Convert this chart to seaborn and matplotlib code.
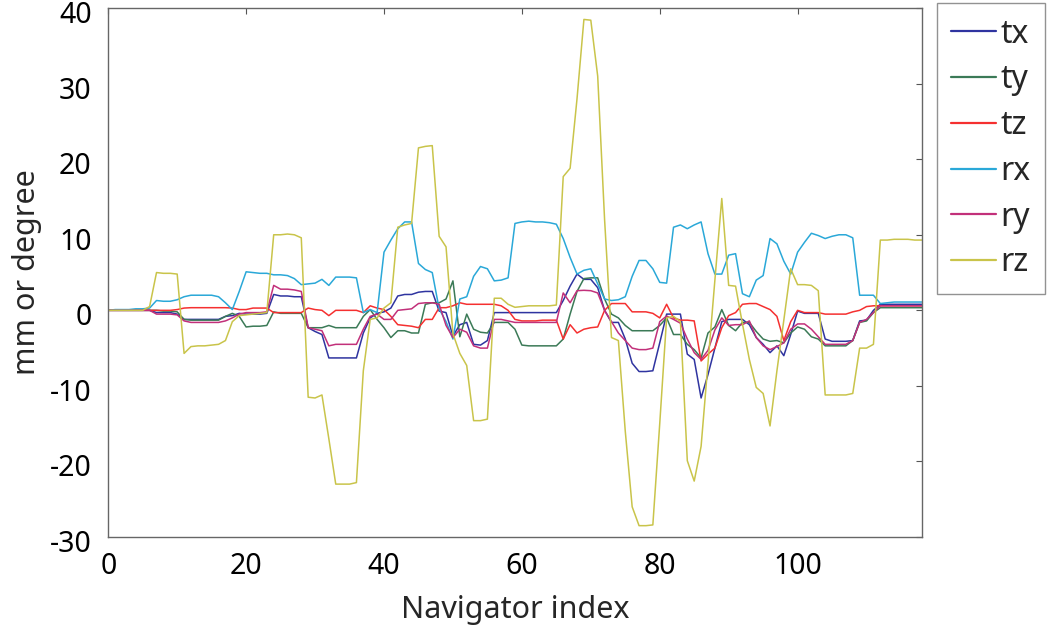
import numpy as np
import pandas as pd
import matplotlib
matplotlib.use("Agg")
import matplotlib.pyplot as plt
import matplotlib.transforms as mtransforms
import seaborn as sns

# motion parameters per navigator
tx = [0, 0, 0, 0, 0, 0, 0,
      -0.3, -0.3, -0.3, -0.5,
      -1.2, -1.2, -1.2, -1.2, -1.2, -1.2,
      -0.8, -0.7, -0.4, -0.5, -0.5, -0.5, -0.4,
      2.1, 1.9, 1.9, 1.8, 1.8,
      -2.3, -2.8, -3.2,
      -6.3, -6.3, -6.3, -6.3, -6.3,
      -3.0, -1.0, -0.4, -0.2, 0.3,
      1.9, 2.1, 2.1, 2.4, 2.5, 2.5,
      -0.1, -0.3, -3.4, -1.9, -1.6,
      -4.5, -4.6, -4.0,
      -0.3, -0.3, -0.3, -0.3, -0.3, -0.3, -0.3, -0.3, -0.3, -0.3,
      1.3, 3.2, 4.8, 4.1, 4.1, 3.0, 0,
      -1.6, -1.6, -3.8, -7.0, -8.1, -8.1, -8.0,
      -4.3, -0.5, -0.5, -0.5,
      -5.8, -6.5, -11.6, -8.5, -5.0,
      -1.5, -1.2, -1.2, -1.2, -1.9, -3.6, -4.5, -5.6, -4.7, -6.0, -3.2,
      -0.1, -0.4, -0.4, -0.4,
      -3.8, -4.1, -4.1, -4.1, -4.0,
      -1.4, -1.3, 0,
      0.8, 0.8, 0.8, 0.8, 0.8, 0.8, 0.8]

ty = [0, 0, 0, 0, 0, 0, 0,
      0, -0.1, -0.1, -0.2,
      -1.2, -1.3, -1.3, -1.3, -1.3, -1.3,
      -0.8, -0.4, -0.8,
      -2.2, -2.1, -2.1, -2.0,
      -0.2, -0.4, -0.4, -0.4, -0.4,
      -2.3, -2.3, -2.3, -2.0, -2.3, -2.3, -2.3, -2.3,
      -0.8, 0.1, -1.2,
      -2.3, -3.6, -2.7, -2.7, -3.0, -3.0,
      0.8, 1.0, 1.0, 1.5, 3.9,
      -3.5, -0.5, -2.5, -2.9, -3.0,
      -1.6, -1.6, -1.6, -2.5,
      -4.6, -4.7, -4.7, -4.7, -4.7, -4.7,
      -3.8, -0.5, 2.5, 4.2, 4.3, 4.3, 1.5,
      -0.5, -1.0, -2.0, -2.7, -2.7, -2.7, -2.7,
      -2.0, -1.0, -3.2, -3.2,
      -4.5, -5.2, -6.3, -3.0, -2.2,
      0.1, -2.0, -2.7, -1.6, -1.6, -2.8, -3.8, -4.1, -4.0, -4.3, -3.0,
      -2.2, -2.5, -3.5, -3.8,
      -4.7, -4.7, -4.7, -4.7, -4.0,
      -1.6, -1.4, -0.3,
      0.35, 0.35, 0.35, 0.35, 0.35, 0.35, 0.35]

tz = [0, 0, 0, 0, 0, 0, 0,
      0, 0, 0, 0.1,
      0.3, 0.35, 0.35, 0.35, 0.35, 0.35, 0.35,
      0.3, 0.1, 0.1, 0.3, 0.3, 0.3,
      -0.3, -0.3, -0.3, -0.3, -0.3,
      0.3, 0.1, 0, -0.7, 0, 0, 0, 0,
      -0.3, 0.6, 0.3, 0.1, -0.8,
      -1.9, -2.0, -2.1, -2.3, -1.2, -1.2,
      0.35, 0.35, 0.6, 1.0, 0.8,
      0.8, 0.8, 0.8, 0.8, 0.6, 0, -1.2,
      -1.4, -1.4, -1.4, -1.3, -1.3, -1.3,
      -3.8, -1.9, -3.0, -2.5, -2.3, -2.2,
      0, 0.9, 0.9, 0.9,
      -0.2, -0.2, -0.2, -0.4, -1.0, 0.8,
      -1.0, -1.3, -1.3, -1.4,
      -6.7, -5.8, -5.0, -2.3, -0.7, -0.3,
      0.8, 0.9, 0.9, 0.5, 0.1, -0.8, -4.0, -1.5,
      0, -0.3, -0.3, -0.3,
      -0.5, -0.5, -0.5, -0.5, -0.2, 0, 0.5,
      0.6, 0.6, 0.6, 0.6, 0.6, 0.6, 0.6, 0.6]

rx = [0, 0.1, 0.1, 0.1, 0.2, 0.2,
      0.3, 1.3, 1.2, 1.2, 1.4,
      1.8, 2.0, 2.0, 2.0, 2.0, 1.8, 1.0, 0.1,
      2.5, 5.1, 5.0, 4.9, 4.9,
      4.7, 4.7, 4.6, 4.2, 3.4, 3.5, 3.6, 4.1, 3.3,
      4.4, 4.4, 4.4, 4.3,
      -0.3, 0.1, -0.3,
      7.7, 9.3, 10.8, 11.7, 11.7,
      6.2, 5.4, 5.0, 0.2, -1.5,
      -3.8, 1.5, 1.8, 4.5, 5.8, 5.5,
      3.9, 4.0, 4.3, 11.5,
      11.7, 11.8, 11.7, 11.7, 11.6, 11.4,
      9.5, 7.0, 4.8, 5.3, 5.5, 3.5, 1.5, 1.3, 1.4, 1.8,
      4.5, 6.6, 6.6, 5.5, 3.7, 3.6,
      11.0, 11.3, 10.8, 11.3, 11.7,
      7.5, 4.8, 4.8, 7.3, 7.5, 2.2, 1.8, 4.0, 4.6,
      9.5, 8.8, 6.5, 4.8, 7.7, 9.0, 10.2, 9.9, 9.5, 9.8, 10.0, 10.0, 9.6,
      2.0, 2.0, 2.0, 0.9,
      1.0, 1.1, 1.1, 1.1, 1.1, 1.1]

ry = [0, 0, 0, 0, 0, 0, 0,
      -0.5, -0.5, -0.5, -0.6,
      -1.4, -1.6, -1.6, -1.6, -1.6, -1.6,
      -1.4, -1.0, -0.5, -0.3, -0.3, -0.3, -0.2,
      3.3, 2.8, 2.8, 2.7, 2.5,
      -2.3, -2.5, -2.7, -4.7, -4.5, -4.5, -4.5, -4.5,
      -2.5, -0.8, -0.5, -1.2, -1.2,
      0, 0.1, 0.2, 0.9, 1.0, 1.0, 0.8,
      -2.0, -3.6, -2.5, -2.9, -4.7, -5.0, -5.0,
      -1.2, -1.2, -1.4, -1.6,
      -1.6, -1.6, -1.6, -1.6, -1.6, -1.6,
      2.3, 1.0, 2.6, 2.65, 2.6, 2.3, 0,
      -1.5, -3.0, -4.0, -5.0, -5.2, -5.2, -5.0,
      -1.5, -0.75, -1.2, -1.7,
      -3.8, -5.6, -6.5, -5.3, -2.6,
      -1.0, -2.0, -1.9, -1.9, -1.4, -3.6, -4.7, -5.2, -4.8, -4.3, -2.5,
      -1.8, -1.8, -2.5, -3.5,
      -4.5, -4.5, -4.5, -4.5, -4.0,
      -1.6, -1.2, -0.3,
      0.6, 0.6, 0.6, 0.6, 0.6, 0.6, 0.6]

rz = [0, 0, 0, 0, 0, 0, 0.5,
      5.0, 4.9, 4.9, 4.8,
      -5.7, -4.8, -4.7, -4.7, -4.6, -4.5,
      -4.0, -1.5, -0.7, -0.6, -0.5, -0.4, -0.3,
      10.0, 10.0, 10.1, 10.0, 9.6,
      -11.5, -11.6, -11.2, -17.0,
      -23.0, -23.0, -23.0, -22.8, -8.0,
      -1.2, -1.0, 0.3, 1.0,
      11.0, 11.3, 11.5, 21.5, 21.7, 21.8,
      9.8, 8.4, -3.1, -5.7, -7.3,
      -14.6, -14.6, -14.4,
      1.6, 1.6, 0.8, 0.4,
      0.5, 0.6, 0.6, 0.6, 0.6, 0.7,
      17.7, 18.8, 28.0, 38.5, 38.4, 31.0, 12.0,
      -3.6, -4.0, -16.0, -26.0,
      -28.5, -28.5, -28.4, -15.0, -1.0,
      -0.8, -1.5, -19.9, -22.6, -18.0,
      -7.0, 4.0, 14.8, 3.3, 3.2,
      -1.8, -6.5, -10.2, -11.0, -15.3,
      -8.0, -1.3, 5.5, 3.4, 3.4, 3.3, 2.6,
      -11.2, -11.2, -11.2, -11.2, -11.0,
      -5.0, -5.0, -4.5,
      9.3, 9.3, 9.4, 9.4, 9.4, 9.3, 9.3]

names = ["tx", "ty", "tz", "rx", "ry", "rz"]
colors = ["#2f34a0", "#3b7a57", "#f53030", "#2aa8d8", "#c2307a", "#c9c44a"]
series = [tx, ty, tz, rx, ry, rz]

idx = np.arange(len(tx))
df = pd.concat([pd.DataFrame({"Navigator index": idx, "value": s, "param": n})
                for s, n in zip(series, names)], ignore_index=True)

sns.set_style("white")
plt.rcParams["font.family"] = ["Noto Sans", "DejaVu Sans"]
plt.rcParams["axes.unicode_minus"] = False

fig = plt.figure(figsize=(10.5, 6.38), dpi=100)
ax = fig.add_axes([0.1031, 0.1583, 0.7747, 0.829])

sns.lineplot(data=df, x="Navigator index", y="value", hue="param",
             palette=dict(zip(names, colors)), linewidth=1.1, ax=ax,
             legend=False, estimator=None, sort=False)

ax.set_xlim(0, 118)
ax.set_ylim(-30, 40)
ax.set_xticks([0, 20, 40, 60, 80, 100])
ax.set_yticks(np.arange(-30, 41, 10))
ax.tick_params(direction="in", top=True, right=True, length=4, width=0.8,
               color="#555555", labelsize=20.5, colors="black")
ax.tick_params(axis="x", pad=11)
ax.tick_params(axis="y", pad=12)
# y tick labels sit a little below their ticks in the original
shift = mtransforms.ScaledTranslation(0, -4 / 100, fig.dpi_scale_trans)
for lab in ax.get_yticklabels():
    lab.set_transform(lab.get_transform() + shift)
for sp in ax.spines.values():
    sp.set_color("#666666")
    sp.set_linewidth(1.0)

ax.set_xlabel("Navigator index", fontsize=22, labelpad=10)
ax.set_ylabel("mm or degree", fontsize=22, labelpad=6)

handles = [plt.Line2D([], [], color=c, lw=1.6) for c in colors]
leg = fig.legend(handles, names, loc="upper left", bbox_to_anchor=(0.892, 0.995),
                 fontsize=23, frameon=True, fancybox=False, borderaxespad=0,
                 handlelength=1.4, handletextpad=0.15, labelspacing=0.4,
                 borderpad=0.45)
leg.get_frame().set_edgecolor("#777777")
leg.get_frame().set_linewidth(1.0)

fig.savefig("out.png", dpi=100)
